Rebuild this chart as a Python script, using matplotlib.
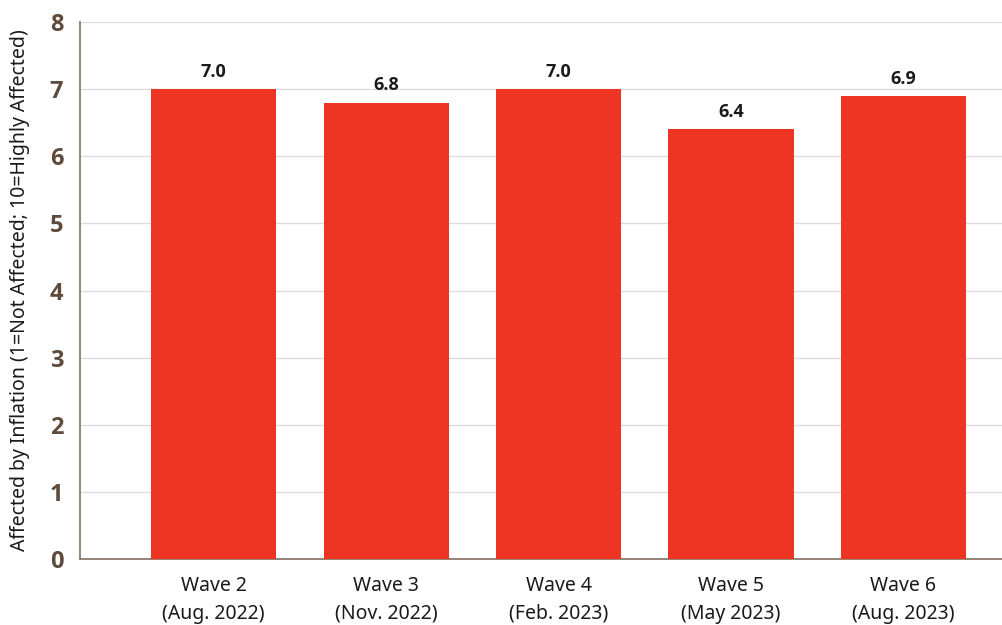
import matplotlib.pyplot as plt
import numpy as np

# Dati
waves = ["Wave 2\n(Aug. 2022)", "Wave 3\n(Nov. 2022)", "Wave 4\n(Feb. 2023)",
         "Wave 5\n(May 2023)", "Wave 6\n(Aug. 2023)"]
scores = [7.0, 6.8, 7.0, 6.4, 6.9]
yticks = [0, 1, 2, 3, 4, 5, 6, 7, 8]

plt.rcParams["font.family"] = ["Noto Sans", "DejaVu Sans"]
bold_font = ["Open Sans", "DejaVu Sans"]

brown = "#5e4b3c"
red = "#ee3524"

fig = plt.figure(figsize=(10.03, 6.25), dpi=100)
ax = fig.add_axes([0.0798, 0.1056, 0.9202, 0.8592])

x = np.arange(len(waves))
bars = ax.bar(x, scores, width=0.725, color=red, zorder=3)

for xi, v in zip(x, scores):
    ax.text(xi, v + 0.12, f"{v:.1f}", ha="center", va="bottom",
            fontsize=13, fontweight="bold", family=bold_font, color="#1a1a1a")

ax.set_xlim(-0.774, 4.577)
ax.set_ylim(0, 8)
ax.set_yticks(yticks)
ax.set_yticklabels([str(t) for t in yticks], fontsize=17, fontweight="bold",
                   family=bold_font, color=brown)
ax.set_xticks(x)
ax.set_xticklabels(waves, fontsize=14, color="#1a1a1a", linespacing=1.55)
ax.tick_params(axis="both", length=0)
ax.tick_params(axis="y", pad=12)
ax.tick_params(axis="x", pad=12)

ax.set_ylabel("Affected by Inflation (1=Not Affected; 10=Highly Affected)",
              fontsize=14, color="#1a1a1a", labelpad=14)

ax.grid(axis="y", color="#dddddd", linewidth=1, zorder=0)
for s in ["top", "right"]:
    ax.spines[s].set_visible(False)
ax.spines["left"].set_color("#8c7a6b")
ax.spines["bottom"].set_color("#8c7a6b")
ax.spines["left"].set_linewidth(1.3)
ax.spines["bottom"].set_linewidth(1.3)

fig.savefig("out.png", dpi=100)
